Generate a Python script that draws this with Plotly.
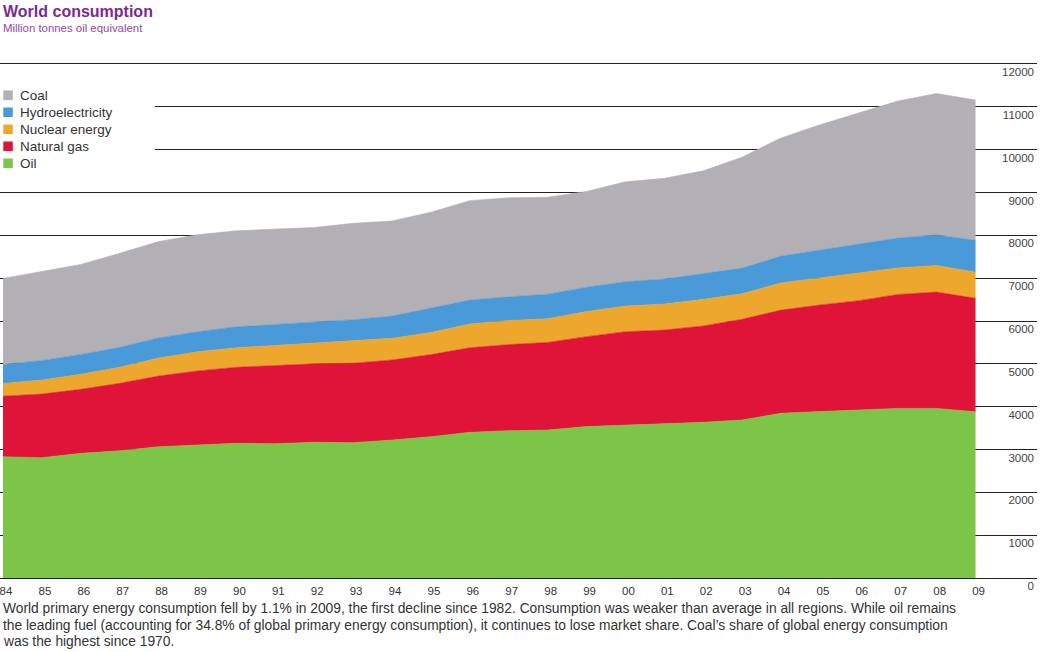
import plotly.graph_objects as go

years = list(range(1984, 2010))
year_labels = ["84", "85", "86", "87", "88", "89", "90", "91", "92", "93", "94", "95", "96",
               "97", "98", "99", "00", "01", "02", "03", "04", "05", "06", "07", "08", "09"]

oil = [2830, 2810, 2910, 2970, 3065, 3105, 3145, 3135, 3170, 3160, 3220, 3300, 3400,
       3440, 3455, 3535, 3565, 3610, 3635, 3690, 3845, 3885, 3915, 3960, 3960, 3880]
natural_gas = [1415, 1485, 1495, 1575, 1650, 1730, 1775, 1830, 1830, 1855, 1870, 1915, 1975,
               2010, 2045, 2100, 2185, 2180, 2250, 2350, 2410, 2490, 2560, 2660, 2715, 2650]
nuclear = [295, 325, 350, 375, 420, 445, 455, 465, 475, 510, 505, 515, 555,
           560, 550, 585, 600, 605, 620, 595, 635, 630, 640, 620, 620, 610]
hydro = [445, 460, 465, 465, 470, 470, 490, 490, 500, 505, 520, 570, 560,
         555, 575, 570, 565, 585, 605, 600, 625, 655, 675, 695, 715, 745]
coal = [2010, 2070, 2100, 2195, 2250, 2265, 2240, 2225, 2210, 2250, 2220, 2240, 2320,
        2310, 2265, 2235, 2335, 2350, 2395, 2590, 2760, 2920, 3060, 3200, 3300, 3275]

y_ticks = list(range(0, 12001, 1000))

series = [
    ("Oil", oil, "#7dc548"),
    ("Natural gas", natural_gas, "#df1438"),
    ("Nuclear energy", nuclear, "#eda72d"),
    ("Hydroelectricity", hydro, "#4a9ad9"),
    ("Coal", coal, "#b2b0b5"),
]

FONT = "Liberation Sans, Arial, sans-serif"
PLOT_TOP, PLOT_BOTTOM, PLOT_W = 64, 578, 1037
PH = PLOT_BOTTOM - PLOT_TOP


def py(pixel_y):
    return (PLOT_BOTTOM - pixel_y) / PH


def px(pixel_x):
    return pixel_x / PLOT_W


fig = go.Figure()
for name, vals, col in series:
    fig.add_trace(go.Scatter(
        x=years, y=vals, name=name, stackgroup="one", mode="lines",
        line=dict(width=0.6, color=col), fillcolor=col, showlegend=False,
        hoverinfo="x+y+name",
    ))

shapes = [dict(type="rect", xref="paper", yref="paper", x0=0, x1=px(155),
               y0=py(172), y1=py(88), fillcolor="white", line=dict(width=0), layer="above")]
annotations = []

# manual legend: swatch squares + labels, top-to-bottom
for i, (name, vals, col) in enumerate(reversed(series)):
    cy = 95.3 + 17 * i
    shapes.append(dict(type="rect", xref="paper", yref="paper",
                       x0=px(3.3), x1=px(12.8), y0=py(cy + 4.8), y1=py(cy - 4.8),
                       fillcolor=col, line=dict(width=0), layer="above"))
    annotations.append(dict(text=name, x=px(18), y=py(cy), xref="paper", yref="paper",
                            xanchor="left", yanchor="middle", showarrow=False,
                            font=dict(size=13.5, color="#333333", family=FONT)))

annotations += [
    dict(text="<b>World consumption</b>", x=0, y=py(11.5), xref="paper", yref="paper",
         xanchor="left", yanchor="middle", xshift=1, showarrow=False,
         font=dict(size=16, color="#7b2a8e", family=FONT)),
    dict(text="Million tonnes oil equivalent", x=0, y=py(28), xref="paper", yref="paper",
         xanchor="left", yanchor="middle", xshift=1, showarrow=False,
         font=dict(size=11.4, color="#9148a8", family=FONT)),
    dict(text="World primary energy consumption fell by 1.1% in 2009, the first decline since 1982. "
              "Consumption was weaker than average in all regions. While oil remains",
         x=0, y=py(608), xref="paper", yref="paper", xanchor="left", yanchor="middle",
         xshift=1, showarrow=False, font=dict(size=13.8, color="#333333", family=FONT)),
    dict(text="the leading fuel (accounting for 34.8% of global primary energy consumption), "
              "it continues to lose market share. Coal\u2019s share of global energy consumption",
         x=0, y=py(625), xref="paper", yref="paper", xanchor="left", yanchor="middle",
         xshift=1, showarrow=False, font=dict(size=13.8, color="#333333", family=FONT)),
    dict(text="was the highest since 1970.",
         x=0, y=py(641), xref="paper", yref="paper", xanchor="left", yanchor="middle",
         xshift=1, showarrow=False, font=dict(size=13.8, color="#333333", family=FONT)),
]

fig.update_layout(
    width=1043, height=652,
    margin=dict(l=0, r=6, t=64, b=74, autoexpand=False),
    paper_bgcolor="white", plot_bgcolor="white",
    font=dict(family=FONT, color="#333333"),
    showlegend=False,
    xaxis=dict(
        range=[1983.923, 2010.58], tickmode="array", tickvals=years, ticktext=year_labels,
        showgrid=False, zeroline=False, showline=True, mirror=True,
        linecolor="#222222", linewidth=1,
        ticks="", tickfont=dict(size=11.5, color="#333333"), ticklabelshift=3,
        ticklabelstandoff=2, ticklabeloverflow="allow",
    ),
    yaxis=dict(
        range=[0, 12000], tickmode="array", tickvals=y_ticks,
        ticktext=[str(v) for v in y_ticks],
        side="right", showgrid=True, gridcolor="#222222", gridwidth=1,
        zeroline=False, showline=False, ticks="",
        ticklabelposition="inside", ticklabelshift=8, ticklabelstandoff=0,
        ticklabeloverflow="allow",
        tickfont=dict(size=11.5, color="#444444"),
    ),
    shapes=shapes,
    annotations=annotations,
)

fig.write_html(
    "out.html",
    config={"displayModeBar": False},
    post_script="document.body.style.margin='0';document.body.style.overflow='hidden';",
)
